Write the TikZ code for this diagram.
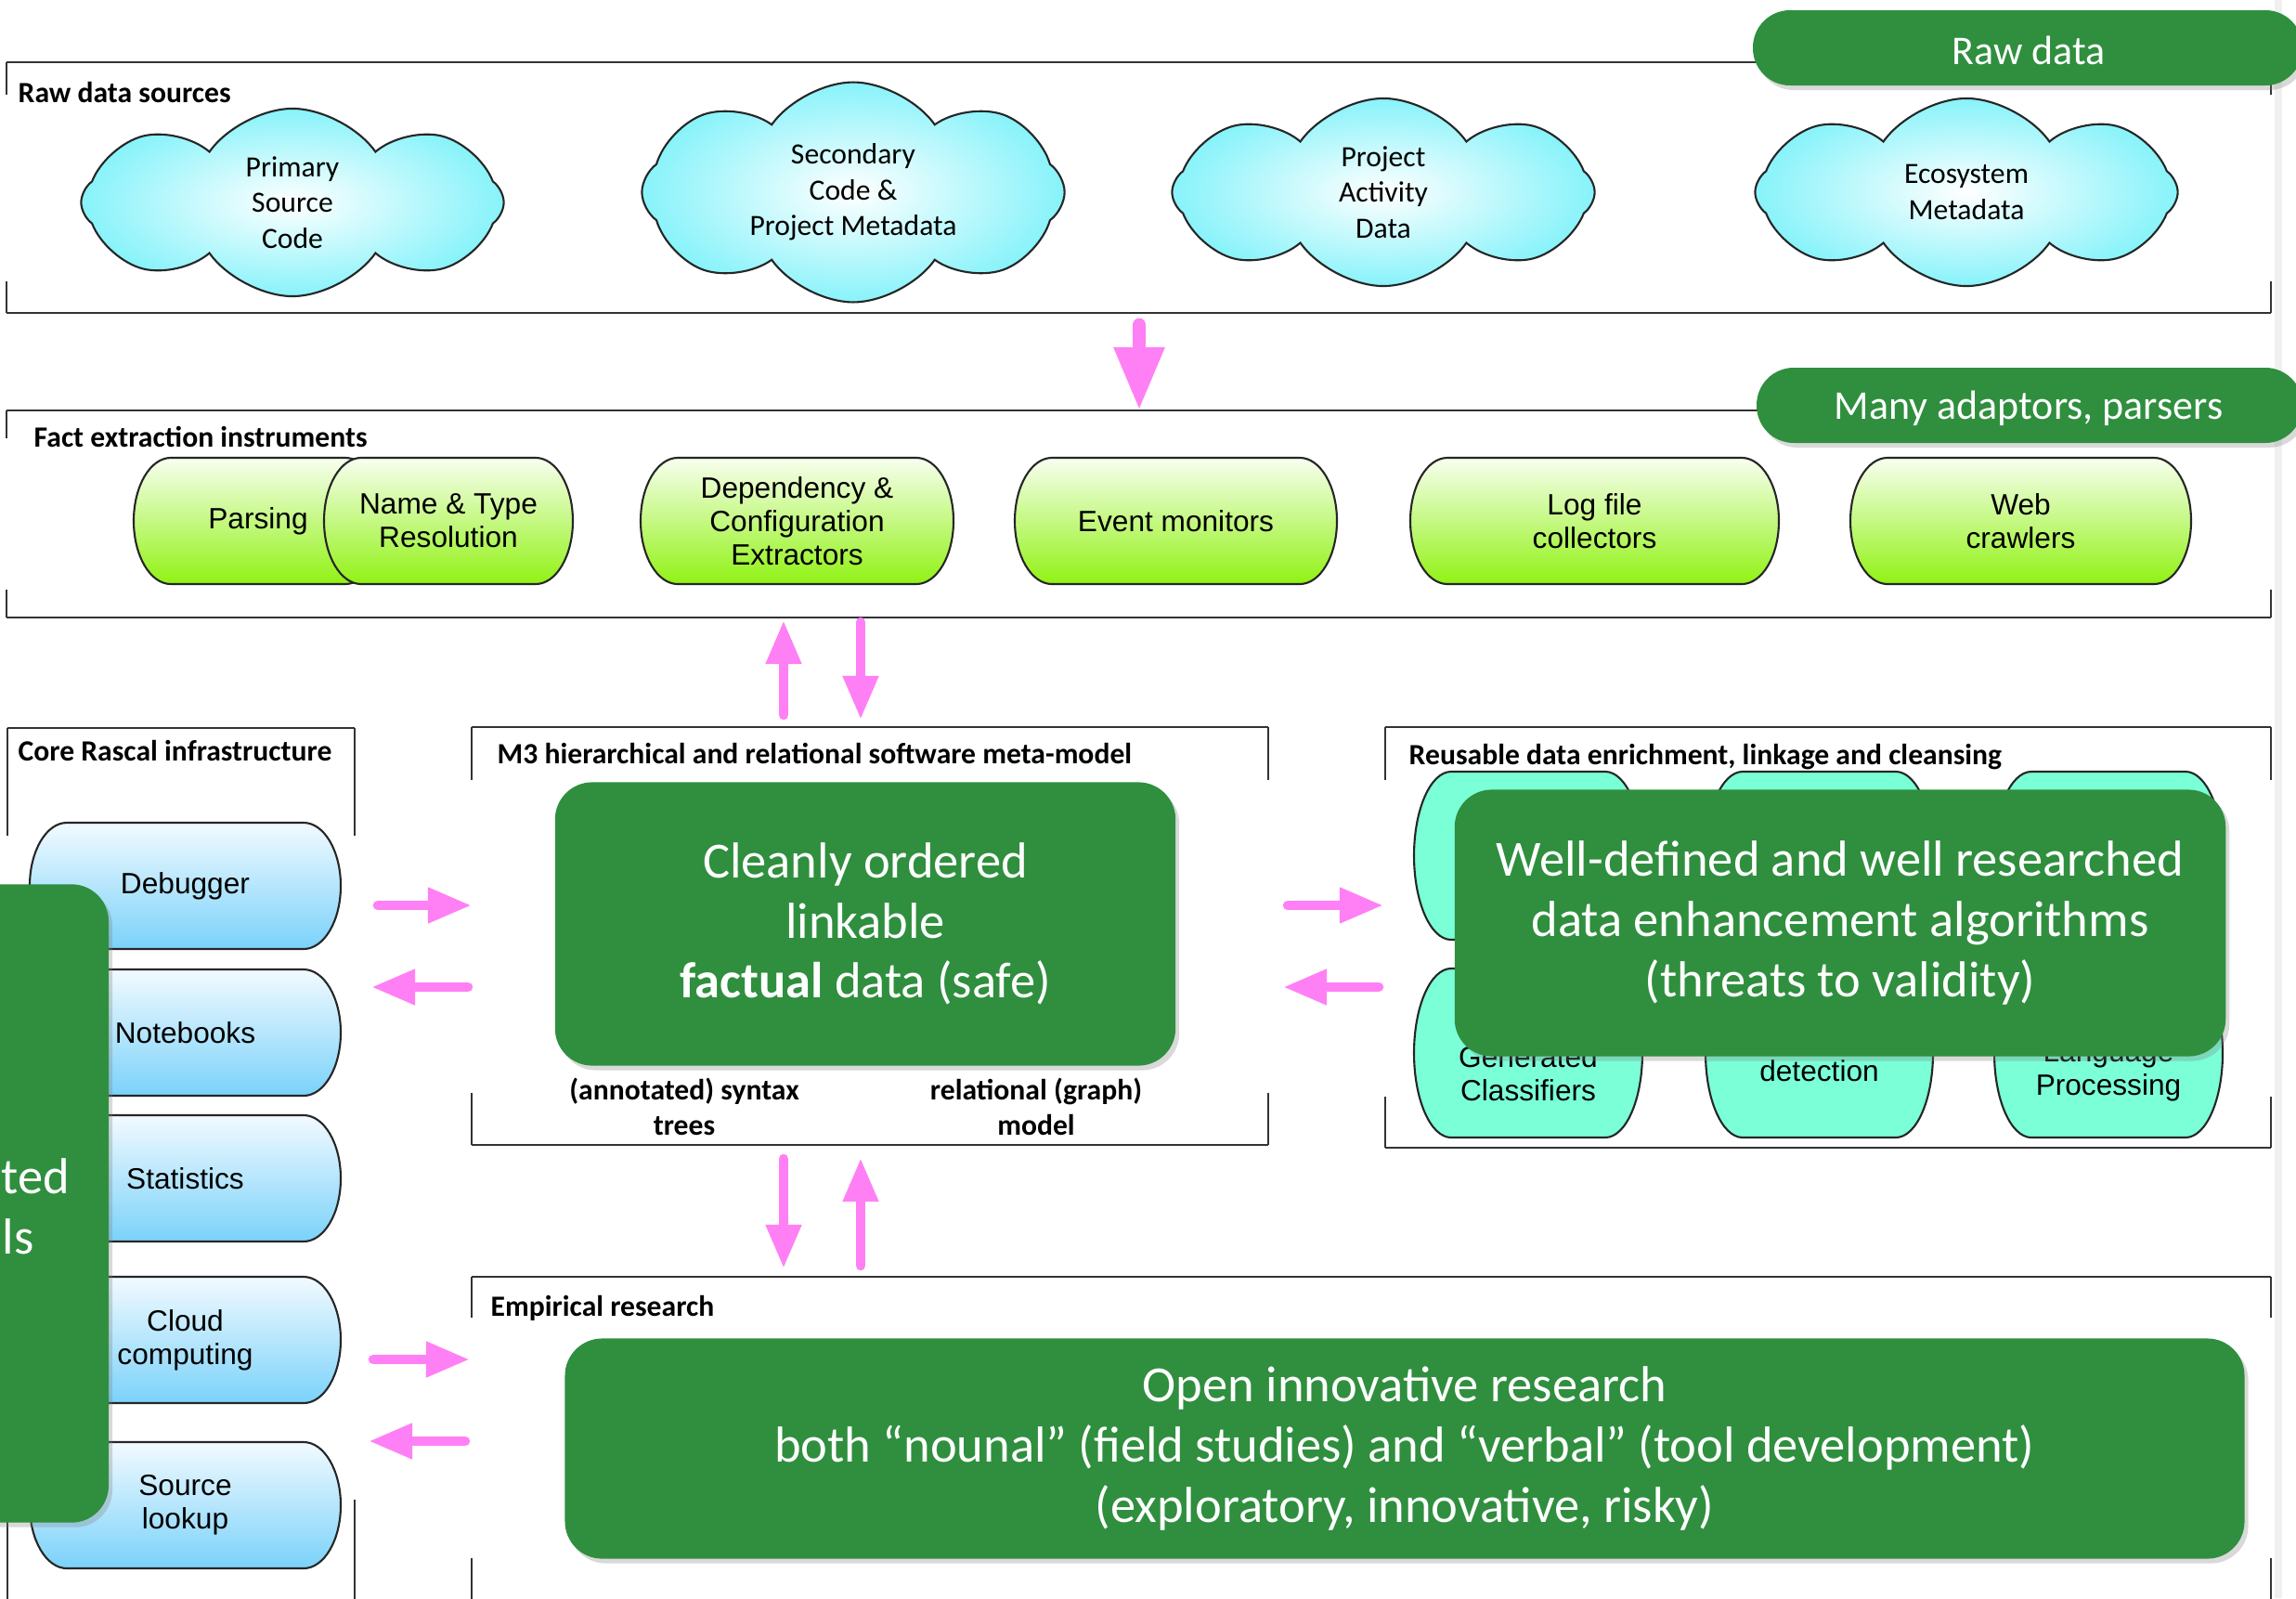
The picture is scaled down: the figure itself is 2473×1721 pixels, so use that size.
\documentclass[tikz,border=0pt]{standalone}
\usepackage{fontspec}
\setmainfont{Carlito}
\newfontfamily\arialfont{Liberation Sans}
\usetikzlibrary{shapes.symbols, shadows, fit, arrows.meta}

\definecolor{slidegreen}{RGB}{47,143,62}
\definecolor{arrowpink}{RGB}{255,128,245}
\definecolor{cloudcyan}{RGB}{135,243,250}
\definecolor{limetop}{RGB}{248,255,240}
\definecolor{limebot}{RGB}{145,242,20}
\definecolor{bluetop}{RGB}{242,250,255}
\definecolor{bluebot}{RGB}{122,210,250}
\definecolor{aqua}{RGB}{122,255,215}

\tikzset{
  frame/.style={inner sep=0pt, outer sep=0pt},
  frameline/.style={draw=black!80, line width=0.8pt},
  boxlabel/.style={anchor=base west, inner sep=0pt, font=\bfseries\fontsize{9}{11}\selectfont},
  sublabel/.style={align=center, font=\bfseries\fontsize{9}{10.8}\selectfont},
  source/.style={cloud, cloud puffs=8, cloud puff arc=110, shape border rotate=22.5,
    cloud ignores aspect, draw=black!85, line width=0.6pt, inner color=white,
    outer color=cloudcyan, minimum width=4.55cm, minimum height=2.02cm, align=center,
    font=\fontsize{9}{11}\selectfont},
  limefill/.style={top color=limetop, bottom color=limebot, draw=black!85, line width=0.6pt},
  bluefill/.style={top color=bluetop, bottom color=bluebot, draw=black!85, line width=0.6pt},
  aquafill/.style={fill=aqua, draw=black!85, line width=0.6pt},
  captext/.style={align=center, font=\arialfont\fontsize{9}{10.3}\selectfont},
  greenbox/.style={fill=slidegreen, rounded corners=0.4cm,
    drop shadow={opacity=0.3, shadow xshift=0.04cm, shadow yshift=-0.05cm}},
  greentext/.style={text=white, align=center, font=\fontsize{15.5}{18.4}\selectfont},
  pilltext/.style={text=white, font=\fontsize{12.5}{15}\selectfont},
  flow/.style={draw=arrowpink, line width=3pt, line cap=round,
    -{Triangle[width=0.36cm, length=0.47cm]}},
  bigflow/.style={draw=arrowpink, line width=4.2pt, line cap=round,
    -{Triangle[width=0.51cm, length=0.68cm]}},
}

% frame with short side strokes: name, top stroke, bottom stroke
\newcommand{\partframe}[3]{%
  \draw[frameline] (#1.north west) -- (#1.north east) (#1.south west) -- (#1.south east)
    (#1.north west) -- ++(0,#2) (#1.north east) -- ++(0,#2)
    (#1.south west) -- ++(0,-#3) (#1.south east) -- ++(0,-#3);}

% box with elliptic ends: [text opts]{name}{left}{right}{top}{bottom}{fill}{text}
\newcommand{\capsule}[8][]{%
  \pgfmathsetmacro{\capry}{(#6-#5)/2}%
  \path[#7] ({#3+40},#5) -- ({#4-40},#5)
    arc[start angle=-90, end angle=90, x radius=40, y radius=\capry]
    -- ({#3+40},#6)
    arc[start angle=90, end angle=270, x radius=40, y radius=\capry] -- cycle;
  \node[captext, #1] (#2) at ({(#3+#4)/2},{(#5+#6)/2}) {#8};}

\begin{document}
\begin{tikzpicture}[x=0.01cm, y=-0.01cm]
    \useasboundingbox (0,0) rectangle (2473,1721);
    \clip (0,0) rectangle (2473,1721);
    \fill[black!6] (2450,0) rectangle (2458,1721);

    % Frames
    \node[frame, fit={(7,67) (2446,337)}] (raw) {};
    \node[frame, fit={(7,442) (2446,665)}] (fact) {};
    \node[frame, fit={(8,784) (382,1740)}] (core) {};
    \node[frame, fit={(508,783) (1366,1233)}] (m3) {};
    \node[frame, fit={(1492,783) (2446,1236)}] (reuse) {};
    \node[frame, fit={(508,1375) (2446,1740)}] (emp) {};
    \partframe{raw}{35}{34}
    \partframe{fact}{30}{30}
    \partframe{core}{116}{125}
    \partframe{m3}{57}{56}
    \partframe{reuse}{57}{55}
    \partframe{emp}{44}{62}

    \node[boxlabel] (rawlbl) at (19,110) {Raw data sources};
    \node[boxlabel] (factlbl) at (36,481) {Fact extraction instruments};
    \node[boxlabel] (corelbl) at (19,819) {Core Rascal infrastructure};
    \node[boxlabel] (m3lbl) at (535,822) {M3 hierarchical and relational software meta-model};
    \node[boxlabel] (reuselbl) at (1517,823) {Reusable data enrichment, linkage and cleansing};
    \node[boxlabel] (emplbl) at (528,1417) {Empirical research};

    % Raw data sources
    \node[source] (primary) at (315,218) {Primary\\Source\\Code};
    \node[source] (secondary) at (919,207) {Secondary\\Code \&\\Project Metadata};
    \node[source] (activity) at (1490,207) {Project\\Activity\\Data};
    \node[source] (ecosystem) at (2118,207) {Ecosystem\\Metadata};

    % Fact extraction instruments
    \capsule{parse}{144}{412}{493}{629}{limefill}{Parsing}
    \capsule{nametype}{349}{617}{493}{629}{limefill}{Name \& Type\\Resolution}
    \capsule{depext}{690}{1027}{493}{629}{limefill}{Dependency \&\\Configuration\\Extractors}
    \capsule{events}{1093}{1440}{493}{629}{limefill}{Event monitors}
    \capsule{logs}{1519}{1916}{493}{629}{limefill}{Log file\\collectors}
    \capsule{crawl}{1993}{2360}{493}{629}{limefill}{Web\\crawlers}

    % Core Rascal infrastructure
    \capsule{dbg}{32}{367}{886}{1022}{bluefill}{Debugger}
    \capsule{nbk}{32}{367}{1044}{1180}{bluefill}{Notebooks}
    \capsule{stats}{32}{367}{1201}{1337}{bluefill}{Statistics}
    \capsule{cloudc}{32}{367}{1375}{1511}{bluefill}{Cloud\\computing}
    \capsule{srclook}{32}{367}{1553}{1689}{bluefill}{Source\\lookup}

    % Reusable data enrichment
    \capsule{enrA}{1523}{1769}{831}{1012}{aquafill}{}
    \capsule{enrB}{1837}{2082}{831}{1012}{aquafill}{}
    \capsule{enrC}{2148}{2394}{831}{1012}{aquafill}{}
    \capsule[yshift=-0.22cm]{enrGen}{1523}{1769}{1043}{1225}{aquafill}{Generated\\Classifiers}
    \capsule[yshift=-0.19cm]{enrDet}{1837}{2082}{1043}{1225}{aquafill}{detection}
    \capsule[yshift=-0.2cm]{enrNlp}{2148}{2394}{1043}{1225}{aquafill}{Language\\Processing}

    % M3 sub labels
    \node[sublabel] (trees) at (737,1192) {(annotated) syntax\\trees};
    \node[sublabel] (graph) at (1116,1192) {relational (graph)\\model};

    % Green call-outs
    \node[greenbox, greentext, minimum width=6.68cm, minimum height=3.05cm] (facts) at (932,995)
        {Cleanly ordered\\linkable\\\textbf{factual} data (safe)};
    \node[greenbox, greentext, minimum width=8.3cm, minimum height=2.87cm] (enrich) at (1982,994)
        {Well-defined and well researched\\data enhancement algorithms\\(threats to validity)};
    \node[greenbox, greentext, minimum width=18.08cm, minimum height=2.37cm] (research) at (1513,1560)
        {Open innovative research\\both “nounal” (field studies) and “verbal” (tool development)\\(exploratory, innovative, risky)};
    \node[greenbox, minimum width=1.8cm, minimum height=6.87cm] (tools) at (27,1296) {};
    \node[greentext, inner sep=0pt, anchor=base west] (toolsA) at (1,1285) {ted};
    \node[greentext, inner sep=0pt, anchor=base west] (toolsB) at (2,1350) {ls};

    \path[greenbox] (1888,11) rectangle (2480,92);
    \node[pilltext] (rawtag) at (2185,54) {Raw data};
    \path[greenbox] (1892,396) rectangle (2480,477);
    \node[pilltext] (adaptortag) at (2185,440) {Many adaptors, parsers};

    % Pink flows
    \coordinate (colA) at (1227,0);
    \coordinate (colB) at (844,0);
    \coordinate (colC) at (927,0);
    \coordinate (rowA) at (0,975);
    \coordinate (rowB) at (0,1063);
    \coordinate (rowC) at (0,1464);
    \coordinate (rowD) at (0,1552);
    \draw[bigflow, shorten <=0.13cm] (raw.south -| colA) -- (fact.north -| colA);
    \draw[flow, shorten <=0.13cm, shorten >=0.03cm] (m3.north -| colB) -- (fact.south -| colB);
    \draw[flow, shorten <=0.05cm, shorten >=0.08cm] (fact.south -| colC) -- (m3.north -| colC);
    \draw[flow, shorten <=0.15cm, shorten >=0.09cm] (m3.south -| colB) -- (emp.north -| colB);
    \draw[flow, shorten <=0.12cm, shorten >=0.14cm] (emp.north -| colC) -- (m3.south -| colC);
    \draw[flow, shorten <=0.25cm] (core.east |- rowA) -- (m3.west |- rowA);
    \draw[flow, shorten <=0.04cm, shorten >=0.18cm] (m3.west |- rowB) -- (core.east |- rowB);
    \draw[flow, shorten <=0.21cm, shorten >=0.02cm] (m3.east |- rowA) -- (reuse.west |- rowA);
    \draw[flow, shorten <=0.07cm, shorten >=0.16cm] (reuse.west |- rowB) -- (m3.east |- rowB);
    \draw[flow, shorten <=0.2cm, shorten >=0.02cm] (core.east |- rowC) -- (emp.west |- rowC);
    \draw[flow, shorten <=0.07cm, shorten >=0.15cm] (emp.west |- rowD) -- (core.east |- rowD);
\end{tikzpicture}
\end{document}
